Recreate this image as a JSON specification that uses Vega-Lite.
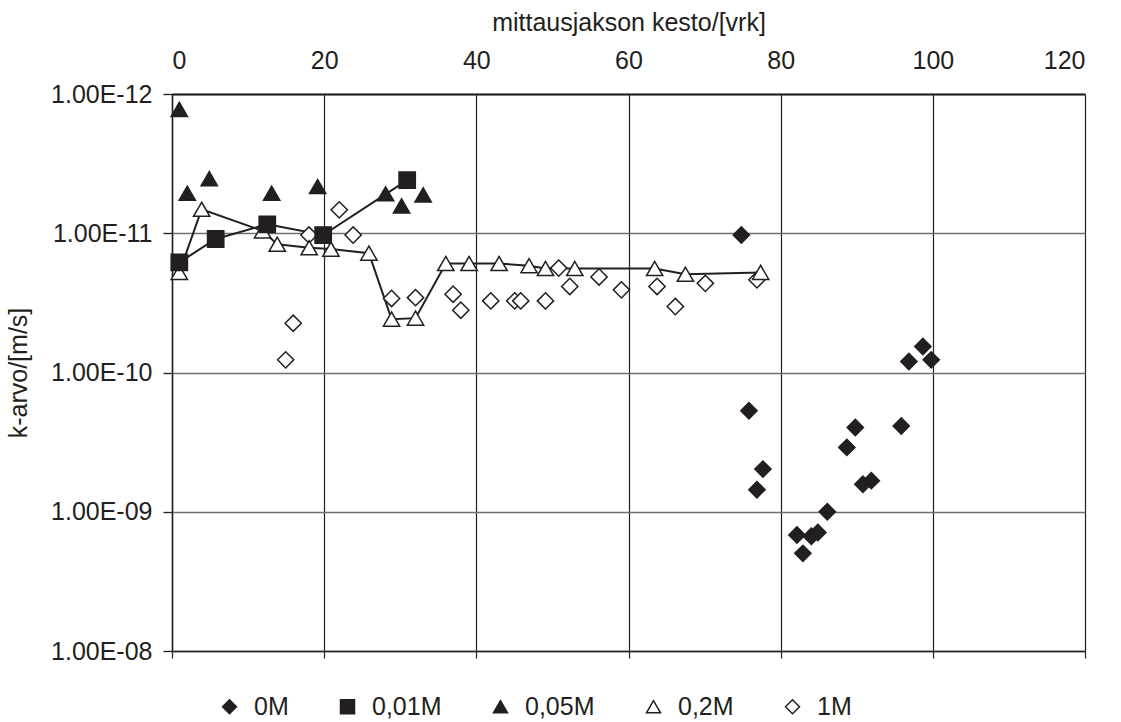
{
  "$schema": "https://vega.github.io/schema/vega-lite/v6.json",
  "width": 913,
  "height": 557,
  "padding": {"left": 6, "top": 10, "right": 5, "bottom": 0},
  "background": "white",
  "config": {
    "font": "Liberation Sans",
    "view": {"stroke": null},
    "axis": {"labelColor": "#231f20", "titleColor": "#231f20", "titleFontWeight": "normal", "labelFontSize": 25, "titleFontSize": 25, "domainColor": "#231f20", "tickColor": "#231f20"},
    "legend": {"symbolStrokeWidth": 1.5, "symbolStrokeColor": "#231f20", "symbolOpacity": 1, "labelFontSize": 25, "labelColor": "#231f20", "symbolSize": 196}
  },
  "data": {
    "values": [
      {"series": "1M", "day": 21.98, "k": 6.79e-12},
      {"series": "1M", "day": 23.81, "k": 1.03e-11},
      {"series": "1M", "day": 18.0, "k": 1.03e-11},
      {"series": "1M", "day": 15.93, "k": 4.43e-11},
      {"series": "1M", "day": 14.94, "k": 8.11e-11},
      {"series": "1M", "day": 28.86, "k": 2.94e-11},
      {"series": "1M", "day": 32.01, "k": 2.9e-11},
      {"series": "1M", "day": 36.95, "k": 2.74e-11},
      {"series": "1M", "day": 37.96, "k": 3.57e-11},
      {"series": "1M", "day": 41.9, "k": 3.06e-11},
      {"series": "1M", "day": 45.05, "k": 3.06e-11},
      {"series": "1M", "day": 45.84, "k": 3.06e-11},
      {"series": "1M", "day": 49.09, "k": 3.06e-11},
      {"series": "1M", "day": 50.83, "k": 1.78e-11},
      {"series": "1M", "day": 52.28, "k": 2.41e-11},
      {"series": "1M", "day": 56.13, "k": 2.06e-11},
      {"series": "1M", "day": 59.07, "k": 2.55e-11},
      {"series": "1M", "day": 63.75, "k": 2.41e-11},
      {"series": "1M", "day": 66.16, "k": 3.36e-11},
      {"series": "1M", "day": 70.1, "k": 2.29e-11},
      {"series": "1M", "day": 76.88, "k": 2.16e-11},
      {"series": "0,2M", "day": 0.96, "k": 1.91e-11},
      {"series": "0,2M", "day": 3.9, "k": 6.73e-12},
      {"series": "0,2M", "day": 11.91, "k": 9.61e-12},
      {"series": "0,2M", "day": 13.83, "k": 1.2e-11},
      {"series": "0,2M", "day": 18.03, "k": 1.27e-11},
      {"series": "0,2M", "day": 20.89, "k": 1.3e-11},
      {"series": "0,2M", "day": 25.88, "k": 1.39e-11},
      {"series": "0,2M", "day": 28.86, "k": 4.14e-11},
      {"series": "0,2M", "day": 32.01, "k": 4.07e-11},
      {"series": "0,2M", "day": 35.99, "k": 1.65e-11},
      {"series": "0,2M", "day": 39.05, "k": 1.65e-11},
      {"series": "0,2M", "day": 42.99, "k": 1.65e-11},
      {"series": "0,2M", "day": 46.93, "k": 1.71e-11},
      {"series": "0,2M", "day": 49.09, "k": 1.79e-11},
      {"series": "0,2M", "day": 52.94, "k": 1.79e-11},
      {"series": "0,2M", "day": 63.44, "k": 1.79e-11},
      {"series": "0,2M", "day": 67.48, "k": 1.97e-11},
      {"series": "0,2M", "day": 77.37, "k": 1.91e-11},
      {"series": "0M", "day": 74.83, "k": 1.03e-11},
      {"series": "0M", "day": 75.83, "k": 1.88e-10},
      {"series": "0M", "day": 77.67, "k": 4.94e-10},
      {"series": "0M", "day": 76.88, "k": 6.95e-10},
      {"series": "0M", "day": 82.14, "k": 1.47e-9},
      {"series": "0M", "day": 82.92, "k": 1.99e-9},
      {"series": "0M", "day": 84.03, "k": 1.5e-9},
      {"series": "0M", "day": 84.89, "k": 1.41e-9},
      {"series": "0M", "day": 86.13, "k": 1.0e-9},
      {"series": "0M", "day": 88.7, "k": 3.45e-10},
      {"series": "0M", "day": 89.81, "k": 2.48e-10},
      {"series": "0M", "day": 90.81, "k": 6.34e-10},
      {"series": "0M", "day": 91.91, "k": 5.98e-10},
      {"series": "0M", "day": 95.85, "k": 2.42e-10},
      {"series": "0M", "day": 96.85, "k": 8.34e-11},
      {"series": "0M", "day": 98.69, "k": 6.5e-11},
      {"series": "0M", "day": 99.79, "k": 8.11e-11},
      {"series": "0,05M", "day": 0.96, "k": 1.29e-12},
      {"series": "0,05M", "day": 2.01, "k": 5.16e-12},
      {"series": "0,05M", "day": 4.9, "k": 4.05e-12},
      {"series": "0,05M", "day": 13.1, "k": 5.16e-12},
      {"series": "0,05M", "day": 19.14, "k": 4.62e-12},
      {"series": "0,05M", "day": 28.07, "k": 5.21e-12},
      {"series": "0,05M", "day": 30.17, "k": 6.36e-12},
      {"series": "0,05M", "day": 33.01, "k": 5.3e-12},
      {"series": "0,01M", "day": 0.96, "k": 1.62e-11},
      {"series": "0,01M", "day": 5.74, "k": 1.1e-11},
      {"series": "0,01M", "day": 12.52, "k": 8.62e-12},
      {"series": "0,01M", "day": 19.87, "k": 1.03e-11},
      {"series": "0,01M", "day": 30.91, "k": 4.16e-12}
    ]
  },
  "encoding": {
    "y": {
      "field": "k",
      "type": "quantitative",
      "scale": {"type": "log", "domain": [1e-12, 1e-8], "reverse": true, "nice": false},
      "axis": {
        "orient": "left",
        "title": "k-arvo/[m/s]",
        "values": [1e-12, 1e-11, 1e-10, 1e-9, 1e-8],
        "labelExpr": "'1.00E-' + format(round(-log(datum.value) / LN10), '02d')",
        "grid": true,
        "gridColor": "#707070",
        "gridWidth": 1.3,
        "tickSize": 9,
        "tickWidth": 1.3,
        "domainWidth": 1.5,
        "labelPadding": 11,
        "titlePadding": 19
      }
    }
  },
  "layer": [
    {
      "transform": [{"filter": "datum.series === '0,01M' || datum.series === '0,2M'"}],
      "mark": {"type": "line", "color": "#231f20", "strokeWidth": 2},
      "encoding": {
        "x": {
          "field": "day",
          "type": "quantitative",
          "scale": {"domain": [0, 120], "nice": false},
          "axis": {
            "orient": "top",
            "title": "mittausjakson kesto/[vrk]",
            "values": [0, 20, 40, 60, 80, 100, 120],
            "grid": true,
            "gridColor": "#231f20",
            "gridWidth": 1.2,
            "ticks": false,
            "domainWidth": 2,
            "labelPadding": 21,
            "titlePadding": 13
          }
        },
        "detail": {"field": "series"}
      }
    },
    {
      "mark": {"type": "point", "stroke": "#231f20", "strokeWidth": 1.5, "opacity": 1, "size": 265},
      "encoding": {
        "x": {
          "field": "day",
          "type": "quantitative",
          "scale": {"domain": [0, 120], "nice": false},
          "axis": {
            "orient": "bottom",
            "title": null,
            "values": [0, 20, 40, 60, 80, 100, 120],
            "labels": false,
            "grid": false,
            "ticks": true,
            "tickSize": 7,
            "tickWidth": 1.2,
            "domainWidth": 1.5
          }
        },
        "shape": {
          "field": "series",
          "type": "nominal",
          "scale": {"domain": ["0M", "0,01M", "0,05M", "0,2M", "1M"], "range": ["diamond", "square", "triangle-up", "triangle-up", "diamond"]},
          "legend": {
            "title": null,
            "orient": "none",
            "legendX": 45,
            "legendY": 600,
            "direction": "horizontal",
            "columnPadding": 46,
            "labelOffset": 12,
            "symbolSize": 196,
            "encode": {
              "symbols": {"update": {
                "stroke": {"value": "#231f20"},
                "strokeWidth": {"value": 1.5}
              }}
            }
          }
        },
        "fill": {
          "field": "series",
          "type": "nominal",
          "scale": {"domain": ["0M", "0,01M", "0,05M", "0,2M", "1M"], "range": ["#231f20", "#231f20", "#231f20", "#ffffff", "#ffffff"]},
          "legend": {
            "title": null,
            "orient": "none",
            "legendX": 45,
            "legendY": 600,
            "direction": "horizontal",
            "columnPadding": 46,
            "labelOffset": 12,
            "symbolSize": 196,
            "encode": {
              "symbols": {"update": {
                "stroke": {"value": "#231f20"},
                "strokeWidth": {"value": 1.5}
              }}
            }
          }
        }
      }
    }
  ],
  "resolve": {"axis": {"x": "independent"}}
}
